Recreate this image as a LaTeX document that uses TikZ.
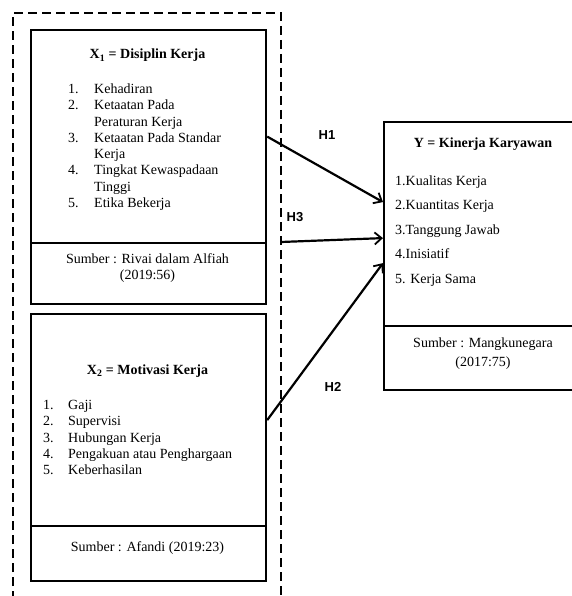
\documentclass[tikz,border=0pt]{standalone}
\usepackage{fontspec}
\setmainfont{Liberation Serif}
\newfontfamily\hfont{Liberation Sans}
\usetikzlibrary{arrows.meta}
\newcommand{\itemfont}{\fontsize{14}{16.3}\selectfont}

\begin{document}
\begin{tikzpicture}[x=1pt, y=-1pt,
  box/.style={draw, line width=2.2pt, inner sep=0, anchor=north west},
  title/.style={font=\bfseries\itemfont, inner sep=0, anchor=base},
  list/.style={font=\itemfont, inner sep=0, anchor=base west},
  source/.style={font=\itemfont, inner sep=0, anchor=base},
  hyp/.style={font=\hfont\bfseries\fontsize{13}{15}\selectfont, inner sep=0},
  conn/.style={line width=2.2pt, -{Straight Barb[length=7pt, width=12pt, line width=1.8pt]}},
  frame/.style={line width=1.3pt, dash pattern=on 9pt off 5pt}]
  \useasboundingbox (0,0) rectangle (571,596);

  % dashed frame round the two variables
  \draw[frame] (13,600) |- (281,13) -- (281,600);
  \coordinate (h3from) at (281,242);

  % X1
  \node[box, minimum width=235pt, minimum height=213pt] (x1top) at (30,29) {};
  \node[box, minimum width=235pt, minimum height=61pt] (x1src) at (30,242) {};
  \node[title] (x1title) at (147.5,59) {X\textsubscript{1} = Disiplin Kerja};
  \node[list] (x1list) at (68,93.5) {\begin{tabular}[t]{@{}p{26pt}@{}l@{}}
    1. & Kehadiran\\
    2. & Ketaatan Pada\\
       & Peraturan Kerja\\
    3. & Ketaatan Pada Standar\\
       & Kerja\\
    4. & Tingkat Kewaspadaan\\
       & Tinggi\\
    5. & Etika Bekerja
  \end{tabular}};
  \node[source] (x1ref) at (147.5,263.5) {\begin{tabular}[t]{@{}c@{}}
    Sumber : Rivai dalam Alfiah\\
    (2019:56)
  \end{tabular}};

  % X2
  \node[box, minimum width=235pt, minimum height=212pt] (x2top) at (30,313) {};
  \node[box, minimum width=235pt, minimum height=55pt] (x2src) at (30,525) {};
  \node[title] (x2title) at (147.5,374) {X\textsubscript{2} = Motivasi Kerja};
  \node[list] (x2list) at (43,409.5) {\begin{tabular}[t]{@{}p{25pt}@{}l@{}}
    1. & Gaji\\
    2. & Supervisi\\
    3. & Hubungan Kerja\\
    4. & Pengakuan atau Penghargaan\\
    5. & Keberhasilan
  \end{tabular}};
  \node[source] (x2ref) at (147.5,551.5) {Sumber : Afandi (2019:23)};

  % Y
  \node[box, minimum width=220pt, minimum height=204pt] (ytop) at (383,121) {};
  \node[box, minimum width=220pt, minimum height=64pt] (ysrc) at (383,325) {};
  \node[title] (ytitle) at (483,147) {Y = Kinerja Karyawan};
  \node[list] (ylist) at (395,185.5) {\renewcommand{\arraystretch}{1.5}%
    \begin{tabular}[t]{@{}l@{}}
    1.Kualitas Kerja\\
    2.Kuantitas Kerja\\
    3.Tanggung Jawab\\
    4.Inisiatif\\
    5. Kerja Sama
  \end{tabular}};
  \node[source] (yref) at (483,347.5) {\renewcommand{\arraystretch}{1.15}%
    \begin{tabular}[t]{@{}c@{}}
    Sumber : Mangkunegara\\
    (2017:75)
  \end{tabular}};

  % hypotheses
  \draw[conn] (x1top.east) -- ([yshift=22pt]ytop.west);
  \draw[conn] (h3from) -- ([yshift=-14pt]ytop.west);
  \draw[conn] (x2top.east) -- ([yshift=-39pt]ytop.west);
  \node[hyp] (h1) at (327,135) {H1};
  \node[hyp] (h3) at (295,217) {H3};
  \node[hyp] (h2) at (333,387) {H2};
\end{tikzpicture}
\end{document}
